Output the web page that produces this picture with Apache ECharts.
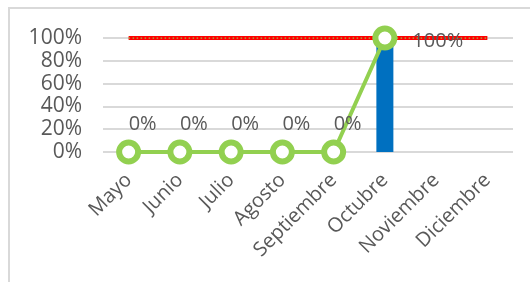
<!DOCTYPE html>
<html>
<head>
<meta charset="utf-8">
<script src="https://cdn.jsdelivr.net/npm/echarts@6/dist/echarts.min.js"></script>
<style>
  html, body { margin: 0; padding: 0; background: #fff; }
  #chart { width: 530px; height: 282px; }
</style>
</head>
<body>
<div id="chart"></div>
<script>
// datos
var months = ['Mayo', 'Junio', 'Julio', 'Agosto', 'Septiembre', 'Octubre', 'Noviembre', 'Diciembre'];
var real = [null, null, null, null, null, 1, null, null];       // barra azul
var meta = [1, 1, 1, 1, 1, 1, 1, 1];                             // linea roja
var avance = [0, 0, 0, 0, 0, 1, null, null];                     // linea verde
var yTicks = [0, 0.2, 0.4, 0.6, 0.8, 1];

var textColor = '#595959';
var font = 'Open Sans';

var chart = echarts.init(document.getElementById('chart'), null, { renderer: 'canvas' });

function pct(v) {
  return Math.round(v * 100) + '%';
}

var option = {
  animation: false,
  graphic: [{
    type: 'rect',
    shape: { x: 9, y: 8, width: 600, height: 400 },
    style: { fill: 'none', stroke: '#d9d9d9', lineWidth: 2 },
    silent: true
  }],
  grid: {
    left: 103,
    right: 17,
    top: 38,
    bottom: 130
  },
  xAxis: {
    type: 'category',
    data: months,
    axisLine: { show: false },
    axisTick: { show: false },
    axisLabel: {
      rotate: 45,
      interval: 0,
      margin: 25,
      color: textColor,
      fontFamily: font,
      fontSize: 20
    }
  },
  yAxis: {
    type: 'value',
    min: yTicks[0],
    max: yTicks[yTicks.length - 1],
    interval: 0.2,
    axisLine: { show: false },
    axisTick: { show: false },
    splitLine: { lineStyle: { color: '#d9d9d9', width: 2 } },
    axisLabel: {
      margin: 21,
      color: textColor,
      fontFamily: font,
      fontSize: 21,
      formatter: pct
    }
  },
  series: [
    {
      name: 'Real',
      type: 'bar',
      data: real,
      barWidth: 17,
      itemStyle: { color: '#0070C0' }
    },
    {
      name: 'Meta',
      type: 'line',
      data: meta,
      symbol: 'none',
      lineStyle: { color: '#FF0000', width: 4 }
    },
    {
      name: 'Meta2',
      type: 'line',
      data: meta,
      symbol: 'none',
      lineStyle: { color: '#9bb84a', width: 1.5, type: [1.5, 2.5] }
    },
    {
      name: 'Avance',
      type: 'line',
      data: avance.map(function (v) {
        if (v === null) return null;
        return {
          value: v,
          label: v >= 1
            ? { position: 'right', offset: [10, 3] }
            : { position: 'top', offset: [14, 0] }
        };
      }),
      symbol: 'circle',
      symbolSize: 19,
      itemStyle: { color: '#fff', borderColor: '#92D050', borderWidth: 6 },
      lineStyle: { color: '#92D050', width: 4 },
      label: {
        show: true,
        color: textColor,
        fontFamily: font,
        fontSize: 20,
        formatter: function (p) { return pct(p.value); }
      }
    }
  ]
};

chart.setOption(option);
</script>
</body>
</html>
